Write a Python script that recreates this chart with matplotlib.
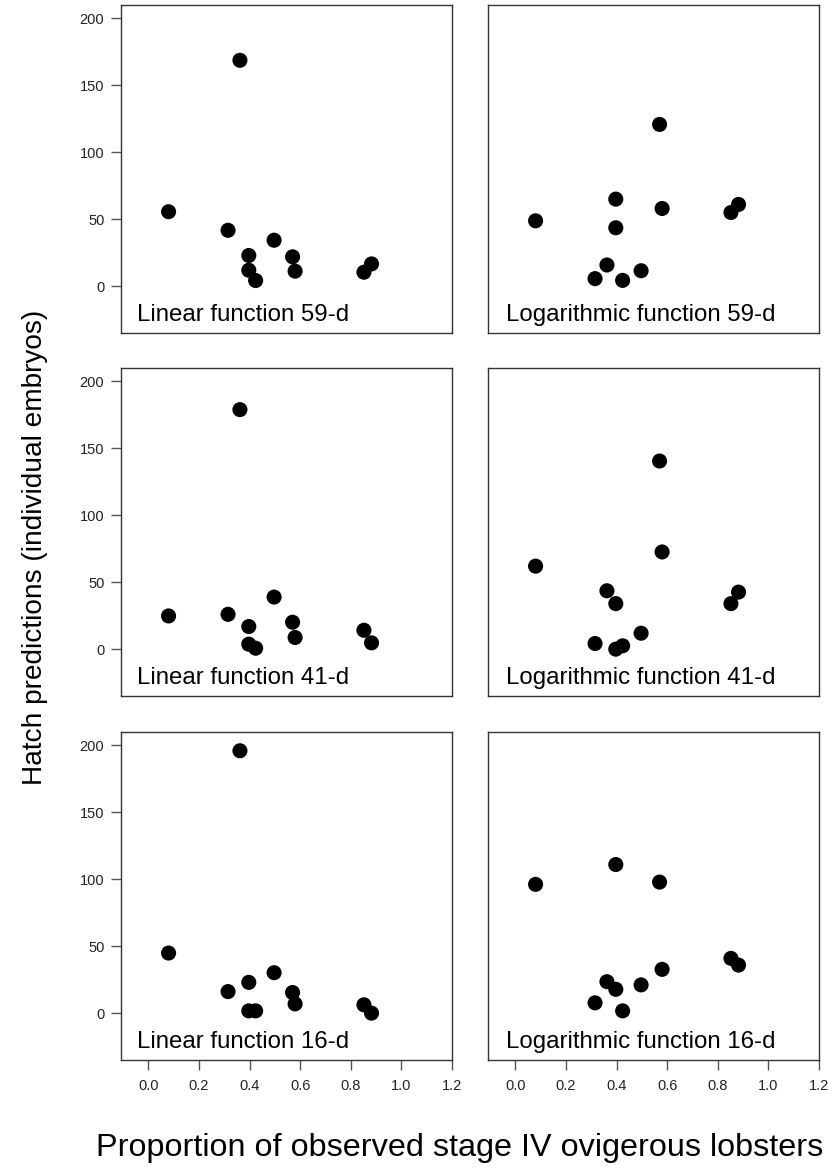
import matplotlib
matplotlib.use("Agg")
import matplotlib.pyplot as plt
import numpy as np

# proportion of observed stage IV ovigerous lobsters (same lobsters in every panel)
prop = [0.080, 0.315, 0.362, 0.397, 0.397, 0.424, 0.497, 0.570, 0.580, 0.852, 0.882]

# hatch predictions (individual embryos)
lin_59 = [55.6, 41.7, 168.7, 22.9, 11.9, 4.2, 34.3, 21.9, 11.2, 10.4, 16.6]
log_59 = [48.8, 5.6, 15.8, 65.0, 43.6, 4.3, 11.5, 120.8, 58.0, 55.0, 61.0]
lin_41 = [24.8, 26.0, 178.9, 16.9, 3.7, 0.7, 38.9, 20.1, 8.7, 14.1, 4.7]
log_41 = [62.0, 4.2, 43.6, 34.0, 0.0, 2.5, 11.9, 140.5, 72.6, 34.0, 42.6]
lin_16 = [44.9, 16.1, 196.0, 23.0, 1.7, 1.7, 30.2, 15.4, 6.9, 6.2, 0.0]
log_16 = [96.2, 7.7, 23.5, 111.0, 17.8, 1.7, 21.1, 97.9, 32.7, 40.9, 35.9]

panels = [
    [("Linear function 59-d", lin_59), ("Logarithmic function 59-d", log_59)],
    [("Linear function 41-d", lin_41), ("Logarithmic function 41-d", log_41)],
    [("Linear function 16-d", lin_16), ("Logarithmic function 16-d", log_16)],
]
y_ticks = [0, 50, 100, 150, 200]
x_ticks = [0.0, 0.2, 0.4, 0.6, 0.8, 1.0, 1.2]

plt.rcParams["font.family"] = ["Liberation Sans", "DejaVu Sans"]

W, H = 833, 1175
fig = plt.figure(figsize=(W / 100, H / 100), dpi=100)

col_left = [121, 488]
row_top = [5, 368, 732]
aw, ah = 331, 328

for r, row in enumerate(panels):
    for c, (name, vals) in enumerate(row):
        ax = fig.add_axes([col_left[c] / W, 1 - (row_top[r] + ah) / H, aw / W, ah / H])
        ax.scatter(prop, vals, s=118, color="black", edgecolor="none", zorder=3)
        ax.set_xlim(-0.108, 1.2)
        ax.set_ylim(-35, 210)
        for sp in ax.spines.values():
            sp.set_color("#333333")
            sp.set_linewidth(1.0)
        ax.tick_params(direction="out", color="#555555", labelcolor="#222222",
                       length=7, width=1.0, labelsize=10.5, pad=5)
        if c == 0:
            ax.set_yticks(y_ticks)
            ax.set_yticklabels([str(v) for v in y_ticks])
        else:
            ax.set_yticks([])
        if r == 2:
            ax.set_xticks(x_ticks)
            ax.set_xticklabels([f"{v:.1f}" for v in x_ticks])
            ax.tick_params(axis="x", pad=7)
        else:
            ax.set_xticks([])
        tx = 0.047 if c == 0 else 0.053
        ax.text(tx, 0.036, name, transform=ax.transAxes, fontsize=17.3,
                ha="left", va="baseline", color="black")

fig.text(0.042, 0.5345, "Hatch predictions (individual embryos)", rotation=90,
         ha="center", va="center", fontsize=20.2)
fig.text(0.552, 0.023, "Proportion of observed stage IV ovigerous lobsters",
         ha="center", va="center", fontsize=23.3)

fig.savefig("out.png", dpi=100)
